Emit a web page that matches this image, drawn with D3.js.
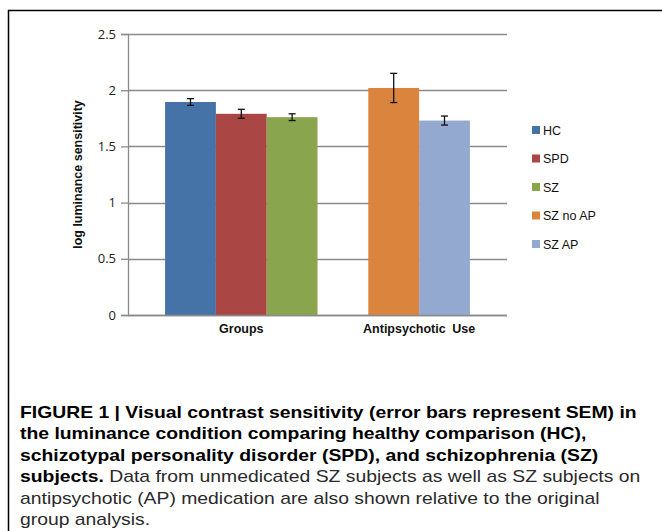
<!DOCTYPE html>
<html>
<head>
<meta charset="utf-8">
<script src="https://cdn.jsdelivr.net/npm/d3@7"></script>
<style>
  body { margin: 0; background: #fff; }
</style>
</head>
<body>
<script>
const categories = ['Groups', 'Antipsychotic Use'];
const groupSeries = [['HC', 'SPD', 'SZ'], ['SZ no AP', 'SZ AP']];
const series = ['HC', 'SPD', 'SZ', 'SZ no AP', 'SZ AP'];
const means = [1.895, 1.79, 1.76, 2.02, 1.73];
const sems = [0.03, 0.04, 0.03, 0.13, 0.04];
const yTicks = [0, 0.5, 1, 1.5, 2, 2.5];
const yTitle = 'log luminance sensitivity';

const colors = ['#4572a7', '#aa4643', '#89a54e', '#db843d', '#93a9cf'];

const width = 662;
const height = 531;
const margin = { top: 34, right: 155, bottom: 216, left: 128 };

// one empty slot between the two groups, like the Excel layout
const slots = [];
groupSeries.forEach((g, i) => {
    if (i > 0) slots.push('gap' + i);
    g.forEach(s => slots.push(s));
});

const bars = series.map((s, i) => ({
    name: s,
    value: means[i],
    sem: sems[i],
    color: colors[i]
}));

const x = d3.scaleBand()
    .domain(slots)
    .range([margin.left, width - margin.right])
    .paddingInner(0)
    .paddingOuter(0.73);

const y = d3.scaleLinear()
    .domain([0, 2.5])
    .range([height - margin.bottom, margin.top]);

const svg = d3.select('body').append('svg')
    .attr('width', width)
    .attr('height', height)
    .attr('font-family', '"Liberation Sans", Arial, sans-serif');

// figure frame
svg.append('path')
    .attr('d', `M8.5,${height} V10.5 H${width}`)
    .attr('fill', 'none')
    .attr('stroke', '#000')
    .attr('stroke-width', 1.5);

// gridlines
svg.append('g')
    .selectAll('line')
    .data(yTicks)
    .join('line')
    .attr('x1', margin.left)
    .attr('x2', width - margin.right)
    .attr('y1', d => Math.round(y(d)) + 0.5)
    .attr('y2', d => Math.round(y(d)) + 0.5)
    .attr('stroke', '#8a8a8a')
    .attr('stroke-width', 1.3);

const yAxis = svg.append('g')
    .attr('transform', `translate(${margin.left},0)`)
    .call(d3.axisLeft(y).tickValues(yTicks).tickSize(7).tickFormat(d3.format('')));
yAxis.select('.domain').attr('stroke', '#8a8a8a').attr('stroke-width', 1.3);
yAxis.selectAll('.tick line').attr('stroke', '#8a8a8a').attr('stroke-width', 1.3);
yAxis.selectAll('.tick text')
    .attr('font-size', 13)
    .attr('fill', '#222')
    .attr('x', -12)
    .attr('font-family', '"Open Sans", sans-serif');

svg.append('text')
    .attr('transform', `translate(82,${(y(0) + y(2.5)) / 2}) rotate(-90)`)
    .attr('text-anchor', 'middle')
    .attr('font-size', 12.5)
    .attr('font-weight', 'bold')
    .attr('fill', '#111')
    .text(yTitle);

// bars
svg.append('g')
    .selectAll('rect')
    .data(bars)
    .join('rect')
    .attr('x', d => x(d.name))
    .attr('y', d => y(d.value))
    .attr('width', x.bandwidth())
    .attr('height', d => y(0) - y(d.value))
    .attr('fill', d => d.color);

// error bars
const err = svg.append('g')
    .attr('stroke', '#111')
    .attr('stroke-width', 1.3)
    .selectAll('g')
    .data(bars)
    .join('g');
const cx = d => x(d.name) + x.bandwidth() / 2;
err.append('line')
    .attr('x1', cx).attr('x2', cx)
    .attr('y1', d => y(d.value + d.sem))
    .attr('y2', d => y(d.value - d.sem));
err.append('line')
    .attr('x1', d => cx(d) - 3.5).attr('x2', d => cx(d) + 3.5)
    .attr('y1', d => y(d.value + d.sem))
    .attr('y2', d => y(d.value + d.sem));
err.append('line')
    .attr('x1', d => cx(d) - 3.5).attr('x2', d => cx(d) + 3.5)
    .attr('y1', d => y(d.value - d.sem))
    .attr('y2', d => y(d.value - d.sem));

// baseline on top of bars
svg.append('line')
    .attr('x1', margin.left).attr('x2', width - margin.right)
    .attr('y1', Math.round(y(0)) + 0.5).attr('y2', Math.round(y(0)) + 0.5)
    .attr('stroke', '#8a8a8a')
    .attr('stroke-width', 1.3);

// category labels centred on their bars
svg.append('g')
    .selectAll('text')
    .data(categories)
    .join('text')
    .attr('x', (d, i) => {
        const g = groupSeries[i];
        return (x(g[0]) + x(g[g.length - 1]) + x.bandwidth()) / 2;
    })
    .attr('y', y(0) + 18)
    .attr('text-anchor', 'middle')
    .attr('font-size', 12.5)
    .attr('font-weight', 'bold')
    .attr('word-spacing', 3)
    .attr('fill', '#111')
    .text(d => d);

// legend
const legend = svg.append('g')
    .selectAll('g')
    .data(bars)
    .join('g')
    .attr('transform', (d, i) => `translate(532,${130 + i * 28.5})`);
legend.append('rect')
    .attr('x', 0).attr('y', -4)
    .attr('width', 8).attr('height', 8)
    .attr('fill', d => d.color);
legend.append('text')
    .attr('x', 11)
    .attr('y', 4.5)
    .attr('font-size', 12.5)
    .attr('fill', '#111')
    .text(d => d.name);

// caption
const captionLines = [
    [['FIGURE 1 | Visual contrast sensitivity (error bars represent SEM) in', true]],
    [['the luminance condition comparing healthy comparison (HC),', true]],
    [['schizotypal personality disorder (SPD), and schizophrenia (SZ)', true]],
    [['subjects.', true], [' Data from unmedicated SZ subjects as well as SZ subjects on', false]],
    [['antipsychotic (AP) medication are also shown relative to the original', false]],
    [['group analysis.', false]]
];
const caption = svg.append('g')
    .attr('font-size', 17)
    .attr('fill', '#111');
const captionTexts = captionLines.map((parts, i) => {
    const t = caption.append('text')
        .attr('x', 0)
        .attr('y', 418 + i * 21.5);
    parts.forEach(p => {
        t.append('tspan')
            .attr('font-weight', p[1] ? 'bold' : 'normal')
            .attr('fill', p[1] ? '#000' : '#2a2a2a')
            .text(p[0]);
    });
    return t;
});
// stretch so the first line reaches the right side, as in the figure
const natural = captionTexts[0].node().getComputedTextLength();
const k = 617 / natural;
caption.attr('transform', `translate(20,0) scale(${k},1)`);
</script>
</body>
</html>
